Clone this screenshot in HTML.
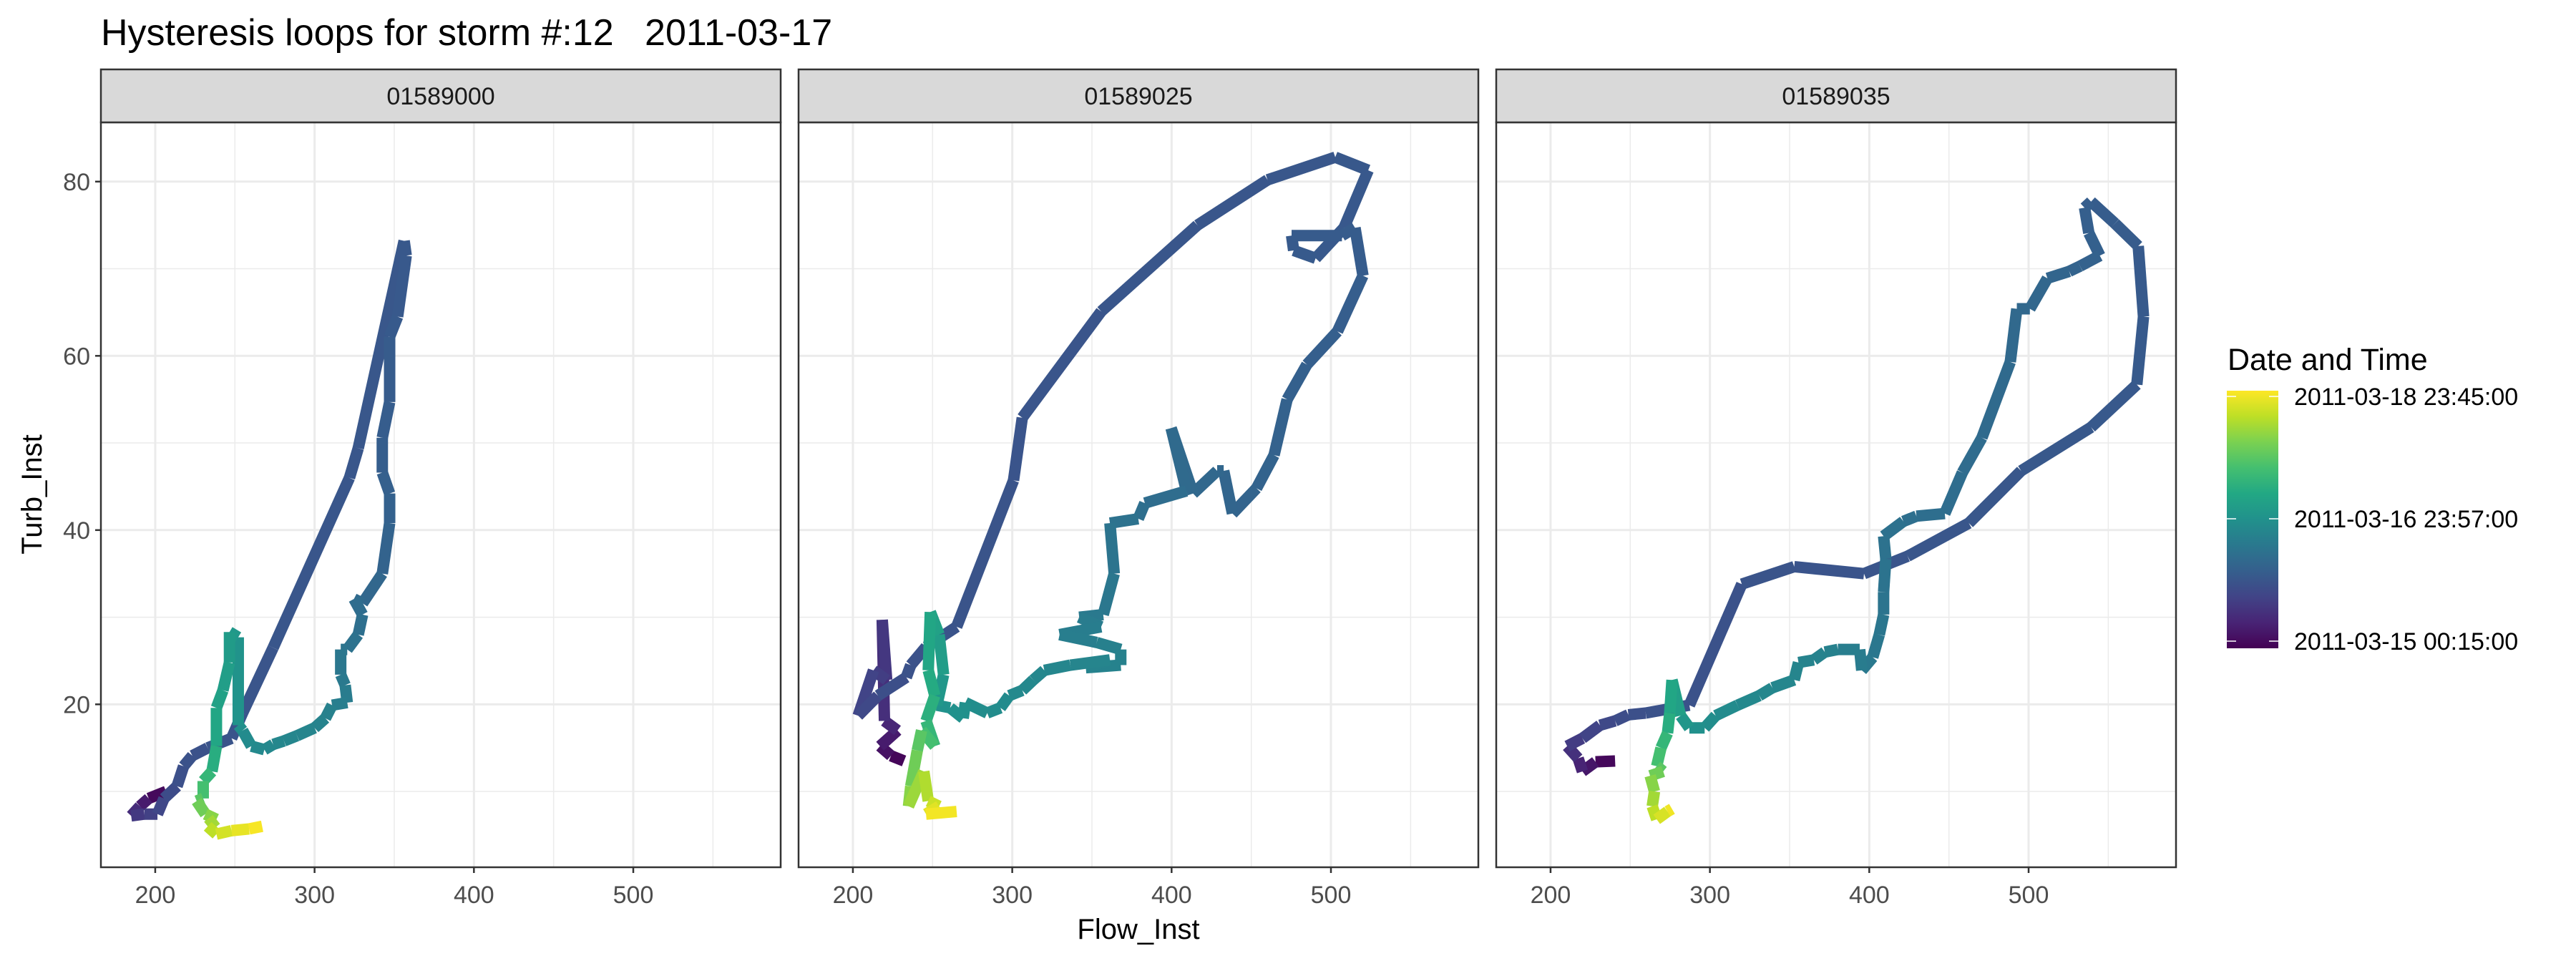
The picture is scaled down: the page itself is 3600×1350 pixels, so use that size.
<!DOCTYPE html>
<html><head><meta charset="utf-8"><style>
html,body{margin:0;padding:0;background:#fff;}
svg{display:block;font-family:"Liberation Sans",Arial,sans-serif;}
</style></head><body>
<svg id="chart" xmlns="http://www.w3.org/2000/svg" width="3600" height="1350" viewBox="0 0 3600 1350">
<rect x="0" y="0" width="3600" height="1350" fill="#fff"/>
<text x="141" y="63" font-size="52" fill="#000" xml:space="preserve" style="white-space:pre">Hysteresis loops for storm #:12   2011-03-17</text>
<g id="panels"></g>
<text transform="translate(58,691) rotate(-90)" text-anchor="middle" font-size="40" fill="#000">Turb_Inst</text>
<text x="1591" y="1312" text-anchor="middle" font-size="40" fill="#000">Flow_Inst</text>
<g>
<text x="3113" y="517" font-size="43" fill="#000">Date and Time</text>
<defs><linearGradient id="vg" x1="0" y1="1" x2="0" y2="0">
<stop offset="0" stop-color="#440154"/><stop offset="0.1" stop-color="#482475"/><stop offset="0.2" stop-color="#414487"/><stop offset="0.3" stop-color="#355f8d"/><stop offset="0.4" stop-color="#2a788e"/><stop offset="0.5" stop-color="#21918c"/><stop offset="0.6" stop-color="#22a884"/><stop offset="0.7" stop-color="#44bf70"/><stop offset="0.8" stop-color="#7ad151"/><stop offset="0.9" stop-color="#bddf26"/><stop offset="1" stop-color="#fde725"/>
</linearGradient></defs>
<rect x="3112" y="546" width="72" height="360" fill="url(#vg)"/>
<g stroke="#fff" stroke-width="1.5">
<line x1="3112" y1="554" x2="3125" y2="554"/><line x1="3171" y1="554" x2="3184" y2="554"/>
<line x1="3112" y1="725" x2="3125" y2="725"/><line x1="3171" y1="725" x2="3184" y2="725"/>
<line x1="3112" y1="896" x2="3125" y2="896"/><line x1="3171" y1="896" x2="3184" y2="896"/>
</g>
<text x="3206" y="566" font-size="34" fill="#000">2011-03-18 23:45:00</text>
<text x="3206" y="737" font-size="34" fill="#000">2011-03-16 23:57:00</text>
<text x="3206" y="908" font-size="34" fill="#000">2011-03-15 00:15:00</text>
</g>
</svg>
<script>
const panelNames = ["01589000","01589025","01589035"];
const xTicks = [200,300,400,500];
const yTicks = [20,40,60,80];
const p1Flow = [206.8,195.9,190.4,184.9,193.2,201.4,205.5,213.7,217.8,223.3,232.9,247.9,254.8,274.0,321.9,327.4,356.2,357.5,352.1,347.1,347.1,342.5,342.5,347.1,347.1,342.5,330.1,324.7,330.1,327.4,320.5,316.4,316.4,319.2,320.5,311.0,306.8,300.0,289.0,280.8,274.0,268.5,260.3,254.8,252.1,252.1,246.6,246.6,242.5,238.4,238.4,235.6,230.1,230.1,226.0,231.5,238.4,232.9,238.4,247.9,258.9,267.1];
const p1Turb = [10.0,9.2,8.3,7.2,7.4,7.4,9.2,10.6,12.9,14.1,15.0,16.1,19.0,26.5,46.0,49.4,73.2,71.5,64.5,62.2,54.7,50.6,46.6,44.2,40.8,35.0,31.6,32.1,30.3,28.0,26.3,26.3,23.4,22.2,20.2,19.9,18.4,17.3,16.4,15.8,15.4,14.8,15.2,17.0,17.6,27.7,28.3,24.8,21.6,19.6,15.2,12.3,11.2,9.2,8.9,7.4,6.8,6.0,5.1,5.5,5.7,6.0];
const p1Time = [0,0.05,0.1,0.15,0.18,0.2,0.22,0.24,0.25,0.25,0.255,0.26,0.26,0.265,0.265,0.27,0.27,0.275,0.28,0.285,0.29,0.295,0.3,0.305,0.31,0.32,0.34,0.35,0.36,0.37,0.38,0.39,0.4,0.41,0.42,0.43,0.44,0.45,0.45,0.46,0.46,0.47,0.47,0.48,0.5,0.52,0.54,0.55,0.56,0.58,0.6,0.64,0.68,0.72,0.76,0.8,0.84,0.88,0.92,0.95,0.98,1.0];
const p2Flow = [232.1,223.9,217.0,228.0,219.8,218.4,221.2,212.9,203.3,215.7,233.5,236.3,245.9,265.1,300.8,306.3,355.8,416.2,460.2,502.7,523.4,508.2,490.4,476.6,475.3,506.9,515.1,520.1,504.1,484.9,472.5,464.3,453.3,438.2,432.7,428.6,413.5,399.7,409.3,383.2,379.1,361.3,364.0,357.1,342.0,355.8,329.7,353.0,368.1,368.1,346.2,361.3,336.5,320.1,313.2,306.3,298.1,292.6,284.3,270.6,269.2,261.0,252.7,256.9,254.1,248.6,247.3,251.4,245.9,251.4,243.1,240.4,236.3,234.9,244.5,247.3,254.1,245.9,265.1];
const p2Turb = [13.5,14.1,15.2,17.0,18.1,29.7,22.8,23.9,18.7,21.0,23.1,24.5,26.6,28.9,45.7,52.9,65.1,75.0,80.2,82.8,81.3,74.7,71.2,72.1,73.8,73.8,74.7,69.2,62.8,59.0,55.0,48.6,44.8,41.9,46.8,46.8,44.2,51.7,44.5,43.1,41.3,40.8,35.0,30.3,30.0,28.9,28.0,27.1,26.3,24.5,24.2,25.1,24.5,23.9,22.8,21.6,21.0,19.6,19.0,20.2,18.4,19.6,19.9,23.4,28.0,30.6,23.9,21.0,18.1,15.2,17.0,14.7,10.6,8.3,12.3,8.9,8.3,7.4,7.7];
const p2Time = [0,0.03,0.06,0.09,0.12,0.15,0.17,0.19,0.21,0.23,0.25,0.25,0.255,0.255,0.26,0.26,0.265,0.265,0.27,0.27,0.275,0.275,0.28,0.28,0.285,0.285,0.29,0.29,0.3,0.3,0.31,0.31,0.32,0.32,0.33,0.33,0.34,0.34,0.35,0.36,0.37,0.38,0.39,0.4,0.41,0.42,0.42,0.43,0.43,0.44,0.44,0.45,0.45,0.46,0.46,0.47,0.47,0.48,0.48,0.49,0.5,0.5,0.51,0.54,0.56,0.58,0.6,0.62,0.64,0.68,0.72,0.76,0.8,0.84,0.86,0.9,0.94,0.97,1.0];
const p3Flow = [240.5,228.2,220.0,217.3,210.4,220.0,231.0,240.5,248.8,259.7,287.1,320.0,352.9,396.7,424.1,462.5,495.3,539.2,567.9,572.1,568.8,554.2,539.2,535.1,537.8,544.7,532.3,525.5,511.8,500.8,492.6,488.5,470.7,458.4,447.4,429.6,421.4,409.0,410.4,409.0,409.0,406.3,402.2,395.3,394.0,380.3,372.1,365.2,355.6,352.9,339.2,331.0,317.3,303.6,296.7,287.1,281.6,276.2,274.8,273.4,269.3,266.6,270.7,262.5,265.2,263.8,266.6,273.4,276.2];
const p3Turb = [13.5,13.4,12.3,13.8,15.2,16.1,17.6,18.1,18.8,19.0,19.9,33.8,35.8,35.0,37.0,40.8,46.8,51.8,56.7,64.5,72.6,75.2,77.7,77.0,74.1,71.5,70.3,69.7,68.9,65.4,65.4,59.3,50.6,46.6,41.9,41.6,41.0,39.3,36.7,32.9,30.3,28.0,25.4,23.9,26.3,26.3,26.0,25.1,24.8,22.8,21.9,21.0,19.9,18.7,17.3,17.3,18.7,22.8,19.0,16.7,15.0,12.9,12.3,11.8,10.0,8.3,6.8,7.7,8.0];
const p3Time = [0,0.04,0.08,0.12,0.16,0.19,0.21,0.23,0.24,0.25,0.25,0.255,0.26,0.26,0.265,0.27,0.27,0.275,0.28,0.28,0.285,0.29,0.29,0.3,0.3,0.31,0.31,0.32,0.33,0.33,0.34,0.34,0.35,0.35,0.36,0.36,0.37,0.37,0.38,0.38,0.39,0.39,0.4,0.41,0.42,0.43,0.44,0.44,0.45,0.45,0.46,0.46,0.47,0.48,0.49,0.5,0.54,0.58,0.6,0.64,0.68,0.72,0.76,0.8,0.84,0.88,0.92,0.96,1.0];

const NS = "http://www.w3.org/2000/svg";
const VIR = ["#440154","#482475","#414487","#355f8d","#2a788e","#21918c","#22a884","#44bf70","#7ad151","#bddf26","#fde725"];
function hex(h){return [parseInt(h.substr(1,2),16),parseInt(h.substr(3,2),16),parseInt(h.substr(5,2),16)];}
function viridis(t){t=Math.max(0,Math.min(1,t));const s=t*10,i=Math.min(9,Math.floor(s)),f=s-i;const a=hex(VIR[i]),b=hex(VIR[i+1]);
return "rgb("+a.map((v,k)=>Math.round(v+(b[k]-v)*f)).join(",")+")";}
const X0=165.9,X1=592.5,Y0=1.3,Y1=86.8;
const panelLeft=[141,1116,2091], PW=950, PT=171, PB=1212;
function el(tag,attrs,parent){const e=document.createElementNS(NS,tag);for(const k in attrs)e.setAttribute(k,attrs[k]);parent.appendChild(e);return e;}
const series=[[p1Flow,p1Turb,p1Time],[p2Flow,p2Turb,p2Time],[p3Flow,p3Turb,p3Time]];
const root=document.getElementById("panels");
panelNames.forEach((name,pi)=>{
  const L=panelLeft[pi];
  const sx=v=>L+(v-X0)/(X1-X0)*PW;
  const sy=v=>PB-(v-Y0)/(Y1-Y0)*(PB-PT);
  const g=el("g",{},root);
  
  
  [250,350,450,550].forEach(v=>{const l=el("line",{x1:sx(v),x2:sx(v),y1:PT,y2:PB,stroke:"#ebebeb","stroke-width":1.5},g);
    });
  [10,30,50,70].forEach(v=>{const l=el("line",{x1:L,x2:L+PW,y1:sy(v),y2:sy(v),stroke:"#ebebeb","stroke-width":1.5},g);
    });
  xTicks.forEach(v=>{const l=el("line",{x1:sx(v),x2:sx(v),y1:PT,y2:PB,stroke:"#ebebeb","stroke-width":3},g);
    });
  yTicks.forEach(v=>{const l=el("line",{x1:L,x2:L+PW,y1:sy(v),y2:sy(v),stroke:"#ebebeb","stroke-width":3},g);
    });
  const [fx,fy,ft]=series[pi];
  for(let i=0;i<fx.length-1;i++){
    const s=el("line",{x1:sx(fx[i]),y1:sy(fy[i]),x2:sx(fx[i+1]),y2:sy(fy[i+1]),stroke:viridis((ft[i]+ft[i+1])/2),"stroke-width":16,"stroke-linecap":"butt"},g);
    
    
  }
  const b=el("rect",{x:L,y:PT,width:PW,height:PB-PT,fill:"none",stroke:"#333","stroke-width":2.5},g);
  
  const st=el("rect",{x:L,y:97,width:PW,height:74,fill:"#d9d9d9",stroke:"#333","stroke-width":2.5},g);
  
  const stt=el("text",{x:L+PW/2,y:146,"text-anchor":"middle","font-size":34,fill:"#1a1a1a"},g);
  stt.textContent=name;
  
  xTicks.forEach(v=>{
    const t=el("line",{x1:sx(v),x2:sx(v),y1:PB,y2:PB+8,stroke:"#333","stroke-width":2.5},g);
    
    const tx=el("text",{x:sx(v),y:1262,"text-anchor":"middle","font-size":34,fill:"#4d4d4d"},g);
    tx.textContent=v;
    
  });
  if(pi===0){
    yTicks.forEach(v=>{
      const t=el("line",{x1:L-8,x2:L,y1:sy(v),y2:sy(v),stroke:"#333","stroke-width":2.5},g);
      
      const tx=el("text",{x:L-15,y:sy(v)+12,"text-anchor":"end","font-size":34,fill:"#4d4d4d"},g);
      tx.textContent=v;
      
    });
  }
});
</script>
</body></html>
